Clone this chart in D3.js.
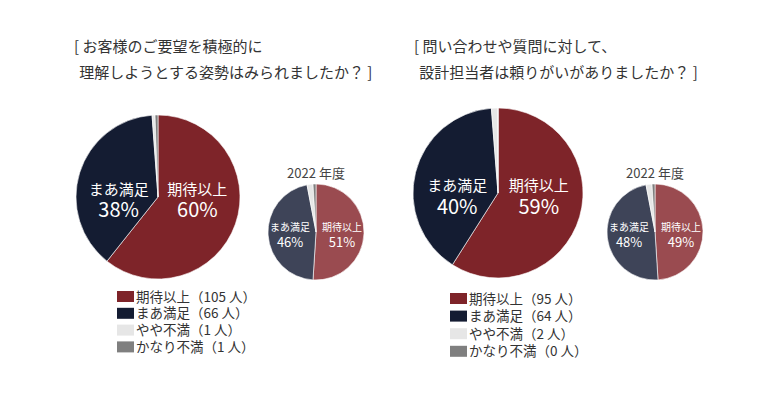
<!DOCTYPE html>
<html>
<head>
<meta charset="utf-8">
<script src="https://cdn.jsdelivr.net/npm/d3@7"></script>
<style>
  body { margin: 0; background: #fff; }
  text { font-family: "Noto Sans CJK JP", "Noto Sans", sans-serif; }
</style>
</head>
<body>
<script>
var width = 780,
    height = 397;

// data
var categories = ['期待以上', 'まあ満足', 'やや不満', 'かなり不満'];
var titles = [
  ['[ お客様のご要望を積極的に', ' 理解しようとする姿勢はみられましたか？ ]'],
  ['[ 問い合わせや質問に対して、', ' 設計担当者は頼りがいがありましたか？ ]']
];
var counts2023 = [[105, 66, 1, 1], [95, 64, 2, 0]];
var pct2023 = [[60, 38], [59, 40]];
var pct2022 = [[51, 46, 2, 1], [49, 48, 2, 1]];
var yearLabel = '2022 年度';

var colorsNow = ['#7e2429', '#141c32', '#e6e6e6', '#7f7f7f'];
var colorsPrev = ['#9a4b50', '#3e4458', '#e6e6e6', '#7f7f7f'];

var svg = d3.select('body')
  .append('svg')
  .attr('width', width)
  .attr('height', height);

var pie = d3.pie().sort(null).value(function(d) { return d; });

var panels = [
  { tx: 74, big: [158, 197, 82], small: [316, 232, 48], lx: 117, ly: 291, ls: 16.8 },
  { tx: 414, big: [498, 193, 85], small: [655, 232, 48], lx: 450, ly: 293, ls: 17.6 }
];

panels.forEach(function(p, i) {
  var g = svg.append('g');

  // title
  g.append('text')
    .attr('x', p.tx).attr('y', 52)
    .attr('font-size', 15).attr('fill', '#333')
    .text(titles[i][0]);
  g.append('text')
    .attr('x', p.tx + 2).attr('y', 78)
    .attr('font-size', 15).attr('fill', '#333')
    .style('white-space', 'pre')
    .text(titles[i][1]);

  // big pie (2023)
  drawPie(g, counts2023[i], colorsNow, p.big, pct2023[i], 15, 20, 0.48, -0.085, 0.16);
  // small pie (2022)
  drawPie(g, pct2022[i], colorsPrev, p.small, pct2022[i].slice(0, 2), 10, 13, 0.54, -0.1, 0.22);

  g.append('text')
    .attr('x', p.small[0]).attr('y', p.small[1] - p.small[2] - 6)
    .attr('text-anchor', 'middle')
    .attr('font-size', 13).attr('fill', '#444')
    .text(yearLabel);

  // legend
  var leg = g.selectAll('.leg')
    .data(categories)
    .enter().append('g')
    .attr('transform', function(d, j) { return 'translate(' + p.lx + ',' + (p.ly + j * p.ls) + ')'; });
  leg.append('rect')
    .attr('width', 17).attr('height', 11)
    .attr('fill', function(d, j) { return colorsNow[j]; });
  leg.append('text')
    .attr('x', 19).attr('y', 10.5)
    .attr('font-size', 13.5).attr('fill', '#333')
    .text(function(d, j) { return d + '（' + counts2023[i][j] + ' 人）'; });
});

function drawPie(g, values, colors, c, pcts, fs1, fs2, off, y1, y2) {
  var r = c[2];
  var arc = d3.arc().innerRadius(0).outerRadius(r);
  var pg = g.append('g').attr('transform', 'translate(' + c[0] + ',' + c[1] + ')');
  pg.selectAll('path')
    .data(pie(values))
    .enter().append('path')
    .attr('d', arc)
    .attr('fill', function(d, j) { return colors[j]; })
    .attr('stroke', '#fff')
    .attr('stroke-width', 0.6);

  [0, 1].forEach(function(j) {
    var x = (j === 0 ? 1 : -1) * off * r;
    pg.append('text')
      .attr('x', x).attr('y', y1 * r + fs1 * 0.35)
      .attr('text-anchor', 'middle')
      .attr('font-size', fs1).attr('fill', '#fff')
      .text(categories[j]);
    pg.append('text')
      .attr('x', x).attr('y', y2 * r + fs2 * 0.35)
      .attr('text-anchor', 'middle')
      .attr('font-size', fs2).attr('fill', '#fff')
      .text(pcts[j] + '%');
  });
}
</script>
</body>
</html>
